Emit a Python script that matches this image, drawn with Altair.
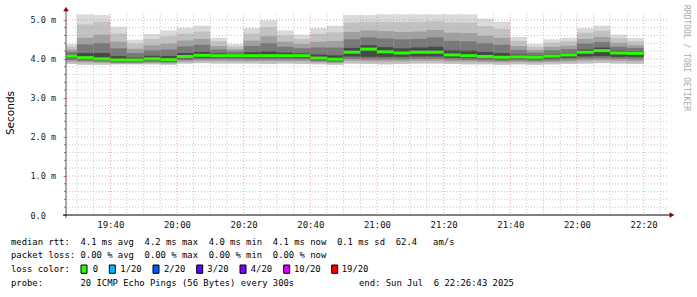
import altair as alt
import pandas as pd

# ---------------- data (ms) ----------------
bar_start = pd.date_range("2025-07-06 19:25:00", periods=35, freq="5min")
mx = [4.38,5.14,5.12,4.82,4.49,4.64,4.73,4.80,4.85,4.54,4.38,4.79,4.99,4.73,4.62,4.79,4.85,5.12,5.12,5.14,
      5.14,5.14,5.14,5.14,5.14,5.03,4.95,4.56,4.38,4.50,4.54,4.79,4.85,4.62,4.53]
u1 = [4.32,4.88,4.95,4.65,4.39,4.51,4.58,4.65,4.70,4.45,4.32,4.65,4.81,4.60,4.51,4.64,4.68,4.93,4.95,4.95,
      4.94,4.95,4.97,4.93,4.93,4.84,4.77,4.46,4.31,4.41,4.45,4.67,4.72,4.53,4.45]
u2 = [4.24,4.54,4.62,4.44,4.26,4.35,4.39,4.47,4.51,4.33,4.25,4.47,4.58,4.44,4.38,4.44,4.46,4.69,4.73,4.71,
      4.69,4.70,4.74,4.67,4.66,4.59,4.54,4.33,4.23,4.31,4.34,4.51,4.56,4.41,4.35]
u3 = [4.18,4.37,4.40,4.27,4.15,4.22,4.24,4.32,4.36,4.24,4.19,4.33,4.40,4.31,4.27,4.29,4.29,4.50,4.55,4.52,
      4.50,4.51,4.55,4.46,4.45,4.40,4.36,4.23,4.16,4.22,4.25,4.39,4.43,4.31,4.28]
u4 = [4.11,4.15,4.15,4.07,4.03,4.08,4.07,4.15,4.18,4.14,4.12,4.17,4.19,4.16,4.14,4.11,4.09,4.28,4.35,4.30,
      4.27,4.29,4.31,4.22,4.21,4.18,4.15,4.11,4.08,4.12,4.15,4.24,4.29,4.21,4.19]
med = [4.07,4.03,4.00,3.97,3.97,4.00,3.98,4.06,4.09,4.08,4.08,4.08,4.08,4.08,4.08,4.02,3.99,4.17,4.25,4.18,
       4.15,4.17,4.17,4.10,4.08,4.06,4.04,4.05,4.04,4.07,4.10,4.17,4.21,4.15,4.14]
l4 = [4.02,3.99,3.96,3.93,3.93,3.96,3.94,4.01,4.03,4.03,4.03,4.03,4.03,4.03,4.02,3.97,3.95,4.06,4.05,4.05,
      4.05,4.06,4.06,4.03,4.02,4.01,3.99,4.00,3.99,4.01,4.03,4.06,4.07,4.05,4.05]
l3 = [3.97,3.95,3.93,3.90,3.90,3.92,3.91,3.97,3.99,3.99,3.99,3.98,3.98,3.98,3.98,3.94,3.92,4.00,3.99,3.99,
      3.99,4.00,4.00,3.98,3.97,3.96,3.95,3.96,3.95,3.96,3.98,4.00,4.01,4.00,3.99]
l2 = [3.93,3.91,3.90,3.88,3.88,3.89,3.88,3.93,3.95,3.95,3.94,3.94,3.94,3.94,3.94,3.91,3.89,3.95,3.94,3.94,
      3.94,3.95,3.95,3.93,3.93,3.92,3.91,3.92,3.91,3.92,3.93,3.95,3.96,3.95,3.94]
mn = [3.87,3.85,3.85,3.86,3.86,3.86,3.85,3.88,3.89,3.88,3.88,3.88,3.87,3.88,3.87,3.86,3.85,3.88,3.87,3.86,
      3.87,3.88,3.88,3.87,3.86,3.86,3.85,3.86,3.85,3.86,3.87,3.88,3.89,3.88,3.87]

loss_labels = ["0", "1/20", "2/20", "3/20", "4/20", "10/20", "19/20"]
loss_colors = ["#26ff00", "#00b8ff", "#0059ff", "#5e00ff", "#7e00ff", "#dd00ff", "#ff0000"]

line1 = "median rtt:  4.1 ms avg  4.2 ms max  4.0 ms min  4.1 ms now  0.1 ms sd  62.4   am/s"
line2 = "packet loss: 0.00 % avg  0.00 % max  0.00 % min  0.00 % now"
line3 = "loss color:"
line4 = "probe:       20 ICMP Echo Pings (56 Bytes) every 300s"
line4_end = "end: Sun Jul  6 22:26:43 2025"
y_title = "Seconds"
credit = "RRDTOOL / TOBI OETIKER"

# ---------------- layout ----------------
L, T, W, H = 66, 12, 600, 203
MONO = "DejaVu Sans Mono"
nb = lambda s: s.replace(" ", "\u00a0")

df = pd.DataFrame({"t0": bar_start, "t1": bar_start + pd.Timedelta(minutes=5),
                   "mx": mx, "u1": u1, "u2": u2, "u3": u3, "u4": u4, "med": med,
                   "l4": l4, "l3": l3, "l2": l2, "mn": mn})


def dt(h, m, s=0):
    return alt.DateTime(year=2025, month=7, date=6, hours=h, minutes=m, seconds=s)


xscale = alt.Scale(domain=[dt(19, 26, 43), dt(22, 26, 43)])
yscale = alt.Scale(domain=[0, 5.2], nice=False, zero=True)

grid_times = pd.date_range("2025-07-06 19:30:00", "2025-07-06 22:25:00", freq="5min")
minor_x = [t for t in grid_times if t.minute % 20]
major_x = [t for t in grid_times if t.minute % 20 == 0]

xaxis = alt.Axis(format="%H:%M", values=[dt(t.hour, t.minute) for t in major_x], labelFont=MONO,
                 labelFontSize=9, labelColor="#111", labelPadding=5, ticks=False, domain=False,
                 grid=False, title=None, labelOverlap=False, labelFlush=False)
yaxis = alt.Axis(values=[0, 1, 2, 3, 4, 5],
                 labelExpr="datum.value == 0 ? '0.0' : format(datum.value, '.1f') + ' m'",
                 labelAlign="left", labelPadding=33, tickSize=3, tickColor="#e07070",
                 labelFont=MONO, labelFontSize=8.5, labelColor="#222", domain=False, grid=False,
                 title=None)


def X(f):
    return alt.X(f, scale=xscale, axis=xaxis)


def Y(f):
    return alt.Y(f, scale=yscale, axis=yaxis)


bands = [("mn", "mx", "#dadada"), ("mn", "u1", "#c2c2c2"), ("l2", "u2", "#a0a0a0"),
         ("l3", "u3", "#787878"), ("l4", "u4", "#484848")]
layers = []
for lo, hi, col in bands:
    layers.append(alt.Chart(df).mark_rect(color=col, clip=True).encode(
        x=X("t0:T"), x2="t1:T", y=Y(f"{lo}:Q"), y2=f"{hi}:Q"))

layers.append(alt.Chart(df).mark_rule(color="#26ff00", strokeWidth=3, clip=True).encode(
    x=X("t0:T"), x2="t1:T", y=Y("med:Q")))

# grid (drawn on top, like rrdtool)
minor_y = [round(0.2 * k, 1) for k in range(1, 26) if k % 5]
major_y = [1, 2, 3, 4, 5]

layers.append(alt.Chart(pd.DataFrame({"v": minor_y})).mark_rule(
    color="#9a9a9a", strokeDash=[1, 2], strokeWidth=1, opacity=0.55).encode(
    y=Y("v:Q"), x=alt.value(0), x2=alt.value(W + 2)))
layers.append(alt.Chart(pd.DataFrame({"t": minor_x})).mark_rule(
    color="#9a9a9a", strokeDash=[1, 2], strokeWidth=1, opacity=0.55).encode(
    x=X("t:T"), y=alt.value(2), y2=alt.value(H)))
layers.append(alt.Chart(pd.DataFrame({"v": major_y})).mark_rule(
    color="#e86a6a", strokeDash=[1, 2], strokeWidth=1, opacity=0.6).encode(
    y=Y("v:Q"), x=alt.value(0), x2=alt.value(W + 2)))
layers.append(alt.Chart(pd.DataFrame({"t": major_x})).mark_rule(
    color="#e86a6a", strokeDash=[1, 2], strokeWidth=1, opacity=0.6).encode(
    x=X("t:T"), y=alt.value(2), y2=alt.value(H)))
# minor ticks on y axis
layers.append(alt.Chart(pd.DataFrame({"v": minor_y})).mark_rule(color="#888", strokeWidth=1).encode(
    y=Y("v:Q"), x=alt.value(-2), x2=alt.value(0)))

dummy = pd.DataFrame({"a": [0]})
# axis lines
layers.append(alt.Chart(dummy).mark_rule(color="#555", strokeWidth=1).encode(
    x=alt.value(0), y=alt.value(-2), y2=alt.value(H + 3)))
layers.append(alt.Chart(dummy).mark_rule(color="#000", strokeWidth=1).encode(
    x=alt.value(-3), x2=alt.value(W + 4), y=alt.value(H)))
layers.append(alt.Chart(dummy).mark_point(shape="triangle-up", filled=True, size=30, color="#7a0a0a",
                                          opacity=1).encode(x=alt.value(0), y=alt.value(-3)))
layers.append(alt.Chart(dummy).mark_point(shape="triangle-right", filled=True, size=30, color="#7a0a0a",
                                          opacity=1).encode(x=alt.value(W + 6), y=alt.value(H)))


def txt(s, x, y, size=8.9, align="left", angle=0, color="#000", font=MONO):
    return alt.Chart(pd.DataFrame({"s": [nb(s)]})).mark_text(
        align=align, baseline="middle", font=font, fontSize=size, color=color, angle=angle).encode(
        x=alt.value(x), y=alt.value(y), text="s:N")


layers.append(txt(y_title, 11 - L, 113 - T, size=10.5, angle=270, align="center",
                  font="DejaVu Sans", color="#000"))
layers.append(txt(credit, 686 - L, 5 - T, size=8, angle=90, color="#a8a8a8"))
layers.append(txt(line1, 11 - L, 241.6 - T))
layers.append(txt(line2, 11 - L, 255.4 - T))
layers.append(txt(line3, 11 - L, 269.3 - T))
layers.append(txt(line4, 11 - L, 283.2 - T))
layers.append(txt(line4_end, 359 - L, 283.2 - T))

sq_x = [81, 109.3, 153, 196.7, 240, 283.7, 331.7]
lab_x = [92.7, 120.3, 164, 207.3, 250.7, 294, 341.7]
leg = pd.DataFrame({"px": [x - L for x in sq_x], "px2": [x - L + 6 for x in sq_x],
                    "lx": [x - L for x in lab_x], "lab": loss_labels, "c": loss_colors})
layers.append(alt.Chart(leg).mark_rect(stroke="#000", strokeWidth=1).encode(
    x=alt.X("px:Q", scale=None), x2="px2:Q", y=alt.value(265 - T), y2=alt.value(273.3 - T),
    color=alt.Color("c:N", scale=None)))
layers.append(alt.Chart(leg).mark_text(align="left", baseline="middle", font=MONO, fontSize=8.9,
                                       color="#000").encode(
    x=alt.X("lx:Q", scale=None), y=alt.value(269.3 - T), text="lab:N"))

chart = alt.layer(*layers).properties(
    width=W, height=H,
    padding={"left": L, "top": T, "right": 697 - L - W, "bottom": 297 - T - H},
    autosize=alt.AutoSizeParams(type="none"),
    background="white",
).configure_view(stroke=None)

chart.save("out.html", embed_options={"renderer": "svg", "actions": False})
